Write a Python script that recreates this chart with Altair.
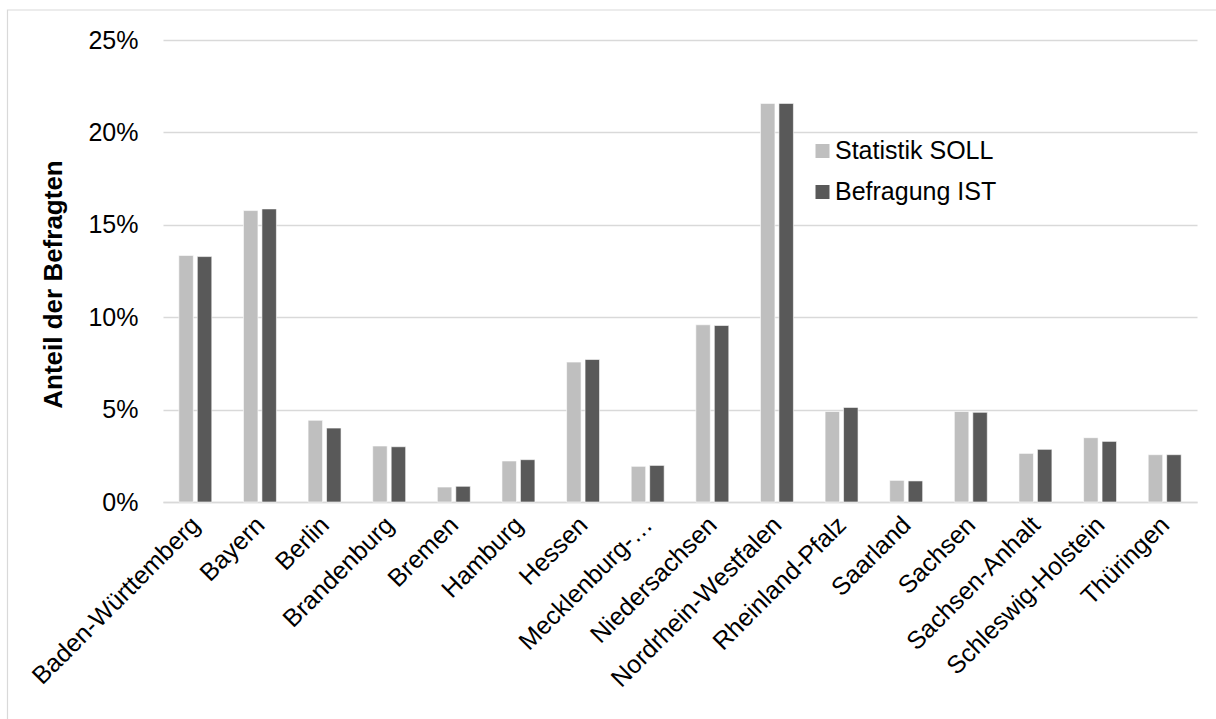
import altair as alt
import pandas as pd

states = ["Baden-Württemberg", "Bayern", "Berlin", "Brandenburg", "Bremen", "Hamburg",
          "Hessen", "Mecklenburg-Vorpommern", "Niedersachsen", "Nordrhein-Westfalen",
          "Rheinland-Pfalz", "Saarland", "Sachsen", "Sachsen-Anhalt",
          "Schleswig-Holstein", "Thüringen"]
soll = [13.34, 15.77, 4.42, 3.03, 0.81, 2.22, 7.57, 1.93, 9.59, 21.57, 4.90, 1.17, 4.90, 2.63, 3.48, 2.56]
ist = [13.28, 15.86, 4.00, 2.99, 0.85, 2.29, 7.71, 1.98, 9.55, 21.57, 5.12, 1.14, 4.85, 2.85, 3.28, 2.56]
series = ["Statistik SOLL", "Befragung IST"]
colors = ["#BFBFBF", "#595959"]
y_ticks = [0, 0.05, 0.10, 0.15, 0.20, 0.25]

rows = []
for s, a, b in zip(states, soll, ist):
    rows.append({"Land": s, "Serie": series[0], "Wert": a / 100})
    rows.append({"Land": s, "Serie": series[1], "Wert": b / 100})
df = pd.DataFrame(rows)

FONT = "Liberation Sans"
FS = 25

bars = alt.Chart(df).mark_bar(stroke="white", strokeWidth=0.6).encode(
    x=alt.X("Land:N", sort=states,
            scale=alt.Scale(paddingInner=0.49, paddingOuter=0.245),
            axis=alt.Axis(title=None, labelAngle=315, labelAlign="right", labelBaseline="top",
                          labelFontSize=FS, labelFont=FONT, labelColor="#000000",
                          labelPadding=10, labelOffset=-8, ticks=False, domain=True,
                          domainColor="#D9D9D9", domainWidth=1.3, labelOverlap=False,
                          labelLimit=400,
                          labelExpr="datum.value == 'Mecklenburg-Vorpommern' ? 'Mecklenburg-…' : datum.value")),
    xOffset=alt.XOffset("Serie:N", sort=series,
                        scale=alt.Scale(paddingInner=0.216, paddingOuter=0)),
    y=alt.Y("Wert:Q", scale=alt.Scale(domain=[0, 0.25], nice=False),
            axis=alt.Axis(values=y_ticks, format=".0%", title="Anteil der Befragten",
                          titleFont=FONT, titleFontSize=26, titleFontWeight="bold",
                          titleColor="#000000", titleAngle=270, titleX=-110, titleY=244,
                          titleAlign="center", titleBaseline="middle",
                          labelFont=FONT, labelFontSize=FS, labelColor="#000000",
                          labelPadding=25, ticks=False, domain=False,
                          gridColor="#D9D9D9", gridWidth=1.3)),
    color=alt.Color("Serie:N", sort=series,
                    scale=alt.Scale(domain=series, range=colors),
                    legend=alt.Legend(title=None, orient="none", legendX=647, legendY=98.5,
                                      symbolType="square", symbolSize=196, symbolStrokeWidth=0,
                                      labelFont=FONT, labelFontSize=FS, labelColor="#000000",
                                      labelOffset=0, labelLimit=500, rowPadding=15)),
)

border = alt.Chart(pd.DataFrame({"a": [0]})).mark_rect(
    fill=None, stroke="#D9D9D9", strokeWidth=1.2
).encode(x=alt.value(-155.5), x2=alt.value(1070), y=alt.value(-30), y2=alt.value(700))

chart = alt.layer(border, bars).properties(
    width=1034, height=462,
    autosize=alt.AutoSizeParams(type="none"),
    padding={"left": 163, "top": 40, "right": 19, "bottom": 217},
    background="white",
).configure_view(stroke=None)

chart.save("out.html", embed_options={"renderer": "svg", "actions": False})
